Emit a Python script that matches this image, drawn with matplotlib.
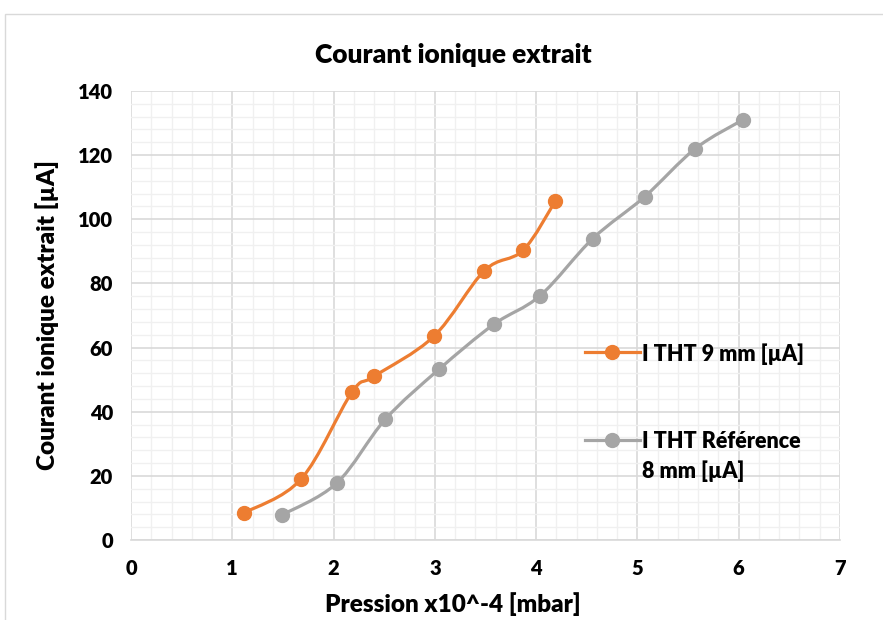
import numpy as np
import matplotlib
matplotlib.use("Agg")
from matplotlib import pyplot as plt
from matplotlib.path import Path
from matplotlib.patches import PathPatch, Rectangle
from matplotlib.lines import Line2D

plt.rcParams['font.family'] = ['Lato', 'DejaVu Sans']
plt.rcParams['font.weight'] = 'bold'

# data
p_9mm = [1.12, 1.68, 2.18, 2.40, 2.99, 3.49, 3.87, 4.19]
i_9mm = [8.5, 19.0, 46.0, 51.0, 63.5, 84.0, 90.3, 105.7]
p_ref = [1.49, 2.03, 2.51, 3.04, 3.58, 4.04, 4.56, 5.07, 5.57, 6.04]
i_ref = [7.8, 17.7, 37.6, 53.2, 67.2, 76.2, 94.0, 107.0, 122.0, 131.0]
labels = ['I THT 9 mm [µA]', 'I THT Référence\n8 mm [µA]']

ORANGE = '#ED7D31'
GREY = '#A5A5A5'


def smooth_path(x, y):
    # Excel style smoothed line: cubic bezier with catmull-rom control points
    pts = np.column_stack([x, y]).astype(float)
    ext = np.vstack([pts[0], pts, pts[-1]])
    verts = [pts[0]]
    codes = [Path.MOVETO]
    for k in range(1, len(ext) - 2):
        p0, p1, p2, p3 = ext[k - 1], ext[k], ext[k + 1], ext[k + 2]
        verts += [p1 + (p2 - p0) / 6, p2 - (p3 - p1) / 6, p2]
        codes += [Path.CURVE4] * 3
    return Path(verts, codes)


fig = plt.figure(figsize=(8.83, 6.2), dpi=100)
fig.patches.append(Rectangle((5 / 883, -0.1), 1.1, (620 - 14) / 620 + 0.1,
                             transform=fig.transFigure, fill=False,
                             edgecolor='#D9D9D9', lw=1))
ax = fig.add_axes([131 / 883, 80 / 620, 709 / 883, 449 / 620])

for x, y, c in [(p_9mm, i_9mm, ORANGE), (p_ref, i_ref, GREY)]:
    ax.add_patch(PathPatch(smooth_path(x, y), fill=False, edgecolor=c,
                           lw=2.3, capstyle='round', zorder=3))
    ax.plot(x, y, 'o', color=c, ms=10, zorder=4)

ax.set_xlim(0, 7)
ax.set_ylim(0, 140)
ax.set_xticks(np.arange(0, 8, 1))
ax.set_yticks(np.arange(0, 141, 20))
ax.set_xticks(np.arange(0, 7.01, 0.2), minor=True)
ax.set_yticks(np.arange(0, 141, 4), minor=True)
ax.grid(which='major', color='#D9D9D9', lw=1.2, zorder=1)
ax.grid(which='minor', color='#F0F0F0', lw=1.0, zorder=0)
ax.set_axisbelow(True)
for s in ['top', 'right', 'left']:
    ax.spines[s].set_visible(False)
ax.spines['bottom'].set_color('#D9D9D9')
ax.spines['bottom'].set_linewidth(1.2)
ax.tick_params(which='both', length=0)
ax.tick_params(axis='x', pad=14, labelsize=14.5)
ax.tick_params(axis='y', pad=13, labelsize=14.5)
for t in ax.get_xticklabels() + ax.get_yticklabels():
    t.set_fontweight('heavy')

fig.text(453 / 883, 1 - 55 / 620, 'Courant ionique extrait', ha='center',
         va='center', fontsize=19, fontweight='heavy')
fig.text(453 / 883, 1 - 604 / 620, 'Pression x10^-4 [mbar]', ha='center',
         va='center', fontsize=17.5, fontweight='heavy')
fig.text(47 / 883, 1 - 315 / 620, 'Courant ionique extrait [µA]', ha='center',
         va='center', rotation=90, fontsize=17.5, fontweight='heavy')

# legend entries: handle sits on the first text line like in Excel
for (c, lab, ypx) in [(ORANGE, labels[0], 352), (GREY, labels[1], 440)]:
    yf = 1 - ypx / 620
    fig.add_artist(Line2D([585 / 883, 612 / 883, 640 / 883], [yf, yf, yf],
                          transform=fig.transFigure, color=c, lw=2.3,
                          marker='o', ms=10, markevery=[1]))
    fig.text(642 / 883, yf + 9 / 620, lab, ha='left', va='top',
             fontsize=15.5, fontweight='heavy', linespacing=1.45)

fig.savefig('out.png', dpi=100)
